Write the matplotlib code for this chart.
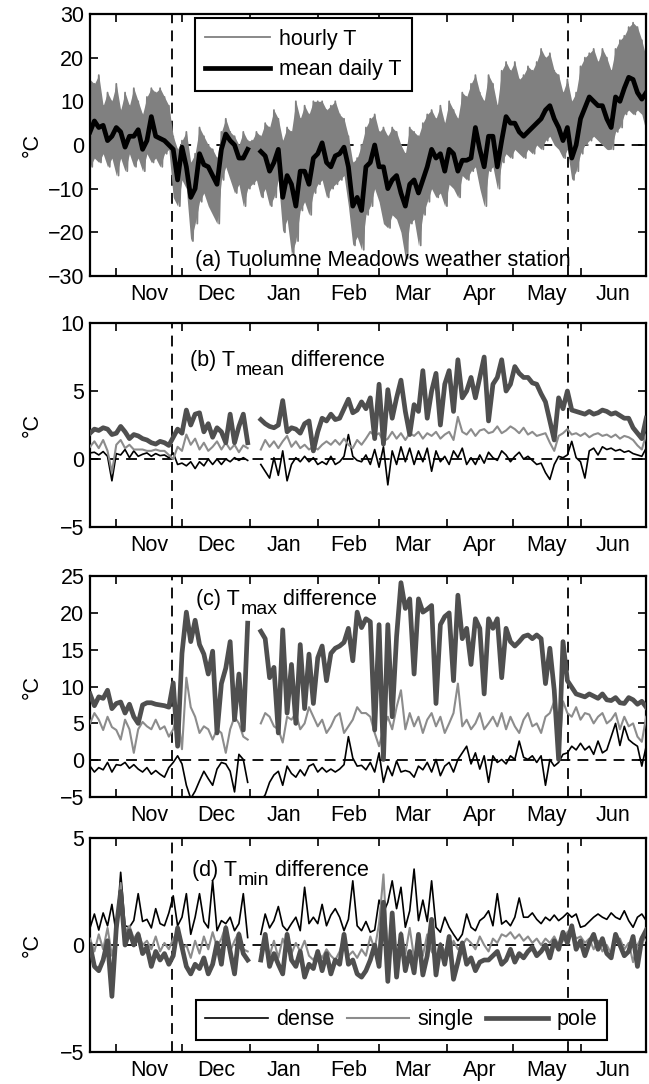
import numpy as np
import matplotlib
matplotlib.use("Agg")
import matplotlib.pyplot as plt

plt.rcParams['font.family'] = ['Liberation Sans', 'DejaVu Sans']
plt.rcParams['font.size'] = 15.5
plt.rcParams['axes.linewidth'] = 1.6

nan = np.nan

# sample days, counted from 20 Oct, every second day up to 30 Jun
days = np.arange(0, 255, 2)
start = np.datetime64('2010-10-20')
month_starts = (np.arange('2010-11', '2011-08', dtype='datetime64[M]').astype('datetime64[D]') - start).astype(int)
month_names = ['Nov', 'Dec', 'Jan', 'Feb', 'Mar', 'Apr', 'May', 'Jun']
snow_on = 37.5
snow_off = 218.5

# (a) station air temperature: daily max / min of the hourly record and the daily mean
hourly_hi = [15, 14, 16, 9, 12, 10, 14, 8, 12, 9, 13, 10, 7, 11, 13, 12,
             13, 11, 9, 2, -1, 1, 3, -4, -2, 4, 2, 0, -1, -3, 3, 6,
             3, 2, 0, 3, 1, 1, 3, 2, 5, 4, 8, 6, 1, 4, 3, 10,
             6, 9, 7, 10, 10, 10, 8, 9, 10, 7, 6, 2, -4, -3, 0, 4,
             6, 7, 3, 4, 2, 4, 3, 0, -2, 4, 3, 2, 5, 7, 8, 6,
             9, 5, 10, 8, 6, 12, 11, 14, 16, 12, 10, 16, 14, 9, 17, 19,
             17, 19, 15, 16, 18, 17, 19, 22, 20, 21, 17, 16, 12, 15, 10, 12,
             18, 20, 21, 22, 19, 22, 20, 17, 22, 24, 25, 27, 28, 27, 24, 20]
hourly_lo = [-5, -3, -4, -2, -5, -3, -7, -3, -6, -2, -5, -3, -6, -2, -4, -3,
             -5, -2, -1, -12, -14, -8, -10, -22, -18, -13, -11, -14, -16, -18, -8, -5,
             -8, -11, -9, -14, -10, -9, -8, -12, -10, -14, -12, -8, -20, -17, -25, -22,
             -15, -13, -16, -11, -9, -8, -12, -10, -9, -8, -7, -14, -23, -21, -24, -16,
             -14, -10, -13, -18, -19, -16, -17, -20, -26, -18, -17, -23, -16, -13, -10, -12,
             -11, -14, -9, -10, -12, -7, -8, -6, -5, -10, -14, -6, -5, -10, -4, -2,
             -3, -1, -2, -3, -1, -2, 0, -1, 1, 2, 0, -1, -3, -1, -8, -6,
             -2, 0, 1, 2, 1, 0, -1, -1, 3, 4, 7, 8, 7, 8, 7, 3]
mean_T = [3, 5.5, 4, 4.5, 1, 2, 4, 3, -0.5, 2, 2, 3.5, -1, 1, 6.5, 2,
          1.5, 1, 0, -1, -8, -0.5, -5, -12, -10, -2, -4.5, -5, -7, -9, -1, 2.5,
          1, 0, -3, -3, -1, nan, nan, -1.5, -2.5, -6, -4, -1, -12, -7, -9, -14,
          -6, -6, -9, -3, -2, 0.5, -4, -5, -2.5, -2, -0.5, -5, -14, -12, -15, -5,
          -4, 0, -5, -5, -10, -8, -7, -11, -14, -9, -8, -11, -8, -5, -1, -3,
          -2, -6, -1, -2, -6, -3.5, -3.5, -3, 4, -1, -5, 2, 2, -5, 1, 6.5,
          5, 5, 3, 2, 3, 4, 5, 6, 8, 9, 6, 4, 1, 4, -3, 0,
          6, 8.5, 11, 10, 9, 9, 6, 4, 11, 10, 13, 15.5, 15, 12, 10.5, 12]

# (b) Tmean difference
dense_b = [0.45, 0.5, 0.3, 0.55, 0.2, -1.6, 0.4, 0.3, 0.7, 0.1, 0.6, 0.2, 0.35, 0.45, 0.2, 0.4,
           0.25, 0.3, 0.1, 0.45, -0.4, -0.3, -0.5, -0.2, -0.7, -0.2, -0.5, 0.0, -0.4, 0.0, -0.4, 0.0,
           -0.2, 0.1, -0.1, 0.1, -0.1, nan, nan, -0.4, -0.9, -1.4, 0.1, -1.2, 0.6, -1.6, -0.4, 0.1,
           -0.2, 0.2, -0.2, 0.1, -0.4, -0.2, -0.4, 0.2, -0.4, -0.2, 0.2, 1.8, 0.2, -0.1, -0.2, 0.3,
           -0.4, 0.7, -0.6, 0.9, -1.9, 0.6, -0.4, 0.9, -0.2, 0.8, -0.4, 0.6, -0.2, 0.8, -0.9, 0.6,
           -0.2, 0.2, -0.4, 0.6, 0.1, 0.8, -0.4, 0.1, -0.4, 0.3, -0.3, 0.5, 0.1, -0.1, 0.6, 0.3,
           -0.2, 0.2, 0.5, 0.0, 0.2, -0.1, -0.4, -0.3, -1.0, -1.5, -0.4, 0.2, 0.1, 0.3, 1.3, 0.1,
           -0.2, -1.4, 0.6, 0.8, 0.3, 0.9, 0.7, 0.8, 0.6, 0.7, 0.5, 0.6, 0.4, 0.3, 0.2, 0.8]
single_b = [0.9, 1.3, 0.8, 1.4, 0.6, -1.0, 1.05, 1.4, 0.8, 1.05, 0.7, 0.7, 0.7, 0.6, 0.6, 0.7,
            0.6, 0.6, 0.3, 0.0, 0.9, 0.6, 1.8, 1.05, 1.5, 0.7, 1.2, 0.6, 0.9, 1.3, 0.7, 1.2,
            0.7, 1.05, 0.5, 1.0, 0.8, nan, nan, 0.7, 1.4, 0.9, 1.3, 0.8, 1.3, 1.7, 0.9, 1.3,
            0.8, 1.05, 0.7, 0.9, 0.7, 1.05, 1.3, 1.05, 1.4, 1.05, 1.5, 1.05, 0.8, 1.4, 1.05, 1.5,
            2.0, 1.7, 1.9, 1.3, 1.5, 2.0, 1.5, 1.9, 1.4, 1.9, 1.7, 2.0, 1.5, 1.9, 1.7, 2.0,
            1.5, 1.8, 2.0, 1.4, 3.1, 2.0, 1.8, 2.2, 1.7, 2.1, 2.2, 1.9, 2.0, 2.4, 1.9, 2.1,
            2.4, 2.2, 1.9, 2.3, 1.8, 2.0, 1.7, 1.8, 1.9, 1.2, 0.6, 1.7, 1.9, 2.2, 1.8, 1.9,
            1.7, 1.9, 1.6, 1.8, 1.9, 1.7, 1.8, 1.6, 1.8, 1.5, 1.7, 1.6, 1.4, 1.0, 0.7, 1.8]
pole_b = [1.9, 2.2, 2.1, 2.3, 2.2, 1.8, 1.9, 2.4, 2.0, 1.5, 1.8, 1.7, 1.5, 1.4, 1.2, 1.1,
          1.3, 1.2, 1.0, 1.6, 2.2, 1.9, 3.6, 2.5, 3.3, 3.4, 2.0, 2.6, 1.6, 2.3, 2.0, 1.2,
          3.3, 1.2, 2.4, 3.3, 1.2, nan, nan, 2.9, 2.6, 2.4, 2.3, 2.5, 4.3, 2.0, 2.3, 2.2,
          1.9, 2.6, 2.8, 0.6, 2.0, 3.0, 2.8, 3.3, 2.9, 3.0, 3.7, 4.4, 3.4, 3.6, 4.2, 3.7,
          4.5, 1.5, 5.5, 1.1, 5.1, 3.0, 4.5, 5.8, 3.5, 1.8, 4.0, 3.5, 6.5, 3.0, 5.0, 6.3,
          2.5, 5.5, 6.5, 3.5, 7.3, 4.5, 5.0, 6.0, 4.5, 6.0, 7.5, 2.8, 5.5, 6.0, 7.3, 5.0,
          5.5, 6.8, 6.3, 6.0, 6.0, 5.6, 5.5, 4.8, 4.2, 2.8, 1.4, 4.5, 3.7, 5.0, 3.6, 3.5,
          3.4, 3.3, 3.5, 3.3, 3.4, 3.6, 3.5, 3.3, 3.4, 3.2, 3.0, 3.0, 2.3, 1.9, 1.5, 3.0]

# (c) Tmax difference
dense_c = [-0.8, -1.6, -1.0, -1.3, -0.3, -1.6, -0.6, -0.7, -0.3, -1.1, -0.6, -1.2, -1.6, -1.0, -1.9, -1.4,
           -1.9, -2.3, -1.0, -0.3, 0.6, -0.5, -3.4, -5.2, -4.2, -2.8, -1.5, -2.5, -3.4, -1.2, -0.3, -0.5,
           -1.5, -4.3, 0.8, 0.1, -3.0, nan, nan, -5.5, -4.7, -3.0, -2.0, -1.5, -3.4, -0.8, -1.8, -2.3,
           -1.3, -2.1, -0.8, -0.5, -1.6, -1.0, -1.6, -1.2, -1.6, -1.2, -0.6, 3.2, 0.3, -0.8, -0.7, -1.3,
           -0.3, -1.6, 1.0, -3.0, -0.8, -2.1, -0.1, -1.6, -1.4, -1.6, -2.3, -0.8, -1.3, -0.3, -1.6, 0.1,
           -2.1, -0.8, -0.3, -1.6, 0.1, 1.0, 1.9, -0.5, 1.0, -1.2, 0.6, -3.0, 0.6, -0.3, 0.1, -0.5,
           0.6, 0.1, 2.6, 0.4, 0.1, 0.6, -0.3, 0.6, -3.4, 0.1, -0.8, -0.3, 0.8, 1.0, 1.9, 1.4,
           2.3, 1.4, 1.9, 0.8, 2.6, 1.0, 1.4, 3.2, 5.0, 2.0, 4.6, 2.8, 2.3, 1.9, -0.8, 1.9]
single_c = [5.0, 6.4, 5.5, 4.1, 5.9, 4.5, 4.1, 2.8, 5.5, 4.2, 1.0, 4.2, 5.2, 4.6, 4.2, 5.5,
            4.2, 4.6, 3.2, 4.2, 6.4, 1.5, 11.2, 7.2, 5.9, 3.7, 4.6, 4.2, 2.8, 4.2, 3.7, 1.0,
            4.2, 5.9, 5.0, 3.2, 2.8, nan, nan, 5.0, 6.4, 5.9, 4.6, 4.2, 2.4, 5.9, 5.5, 6.4,
            4.2, 5.0, 7.2, 5.9, 4.6, 5.5, 3.7, 4.6, 5.9, 6.4, 3.7, 4.6, 5.5, 7.2, 6.4, 6.4,
            5.9, 3.7, 1.9, 4.2, 5.9, 4.2, 7.2, 9.5, 4.2, 6.4, 4.6, 5.9, 3.7, 5.5, 6.4, 4.6,
            5.9, 3.7, 5.0, 6.4, 10.4, 4.6, 5.5, 4.2, 5.0, 6.4, 4.2, 5.0, 5.9, 4.6, 6.4, 4.2,
            5.9, 4.6, 3.7, 5.5, 6.4, 4.6, 5.0, 3.7, 5.9, 6.4, 8.0, 0.1, 8.0, 6.4, 5.9, 7.2,
            5.5, 6.4, 6.2, 5.0, 5.9, 6.4, 5.0, 5.5, 6.4, 4.2, 5.9, 4.6, 5.0, 3.2, 2.5, 5.9]
pole_c = [9.0, 7.4, 8.6, 8.4, 9.5, 7.0, 7.7, 7.9, 6.4, 7.6, 5.9, 5.0, 7.5, 7.8, 7.8, 7.6,
          7.5, 7.4, 7.2, 10.5, 1.9, 14.5, 20.1, 16.1, 19.0, 15.7, 14.4, 11.7, 14.8, 3.7, 10.4, 12.5,
          16.1, 5.5, 11.7, 4.1, 18.6, nan, nan, 17.5, 16.5, 11.2, 12.6, 3.7, 17.7, 6.4, 13.0, 5.0,
          15.7, 7.0, 14.4, 7.7, 13.9, 15.5, 10.8, 14.5, 15.2, 15.5, 16.0, 17.9, 13.5, 20.1, 18.0, 19.2,
          18.8, 4.1, 18.4, 0.1, 18.4, 5.9, 16.8, 24.1, 20.6, 21.9, 11.7, 21.9, 20.1, 20.5, 21.0, 7.7,
          18.4, 19.5, 20.0, 10.8, 22.4, 16.5, 17.9, 13.0, 19.2, 17.9, 9.0, 19.2, 17.9, 19.2, 11.2, 17.9,
          16.1, 15.5, 16.1, 16.8, 17.0, 16.5, 17.0, 16.5, 10.4, 15.2, 9.5, 0.1, 16.1, 10.8, 9.9, 9.0,
          8.8, 8.6, 9.0, 8.7, 8.4, 9.0, 8.2, 8.1, 8.5, 7.8, 7.7, 8.5, 8.2, 7.6, 8.0, 7.2]

# (d) Tmin difference
dense_d = [0.8, 1.45, 0.7, 1.5, 0.9, 1.9, 0.5, 3.4, 0.9, 0.83, 1.15, 2.4, 1.1, 1.2, 0.8, 1.7,
           1.0, 0.9, 1.5, 2.3, 0.9, 1.3, 2.4, 0.5, 1.3, 2.4, 1.1, 0.8, 3.0, 0.67, 1.14, 1.0,
           1.3, 0.67, 1.0, 2.4, 0.35, nan, nan, 0.5, 1.45, 0.8, 1.14, 1.8, 0.9, 0.67, 1.0, 1.3,
           0.67, 2.7, 1.0, 1.3, 1.0, 1.9, 0.9, 1.4, 1.7, 1.3, 0.67, 1.2, 3.0, 0.9, 0.67, 1.1,
           0.6, 0.7, 2.1, 1.5, 2.0, 3.0, 1.7, 2.7, 0.83, 1.6, 3.55, 1.14, 2.1, 1.1, 3.0, 0.83,
           0.6, 1.3, 0.83, 0.5, 0.2, 0.5, 1.45, 0.83, 0.67, 1.14, 1.3, 1.6, 0.9, 2.4, 0.98, 1.14,
           0.9, 1.3, 2.2, 1.3, 1.3, 1.5, 1.2, 1.0, 1.3, 1.14, 1.4, 1.14, 1.3, 1.5, 1.3, 1.45,
           0.83, 0.9, 1.1, 1.3, 1.45, 1.3, 1.2, 1.5, 1.3, 1.2, 1.6, 1.14, 0.83, 1.3, 1.45, 1.14]
single_d = [0.3, -0.3, 0.5, -0.2, 0.8, -0.5, 0.3, 2.9, 0.6, 0.9, 0.3, 0.6, 0.0, 0.2, -0.2, 0.4,
            -0.3, 0.1, -0.2, 0.3, 0.6, -0.2, 0.0, -0.6, 0.2, -0.4, 0.4, -0.2, 0.6, -0.1, 0.3, 0.9,
            -0.3, 0.2, 0.6, -0.2, -0.3, nan, nan, -0.2, 0.4, -0.5, 0.2, -0.6, 0.3, -0.2, -0.4, 0.1,
            -0.3, 0.2, -0.5, -0.7, -0.3, -0.6, -0.2, -0.5, -0.7, -0.3, 0.4, -0.5, -0.3, -0.6, -0.2, -0.5,
            0.4, -0.2, 1.0, 3.3, -0.5, 1.0, -1.0, 0.6, -0.4, 0.8, -0.6, 0.2, -0.5, 0.5, -0.3, -0.6,
            0.1, -0.3, -0.5, 0.2, -0.2, 0.0, 0.3, 0.1, -0.2, 0.4, 0.0, -0.3, 0.3, 0.1, 0.5, 0.4,
            0.6, 0.3, 0.5, 0.2, 0.4, 0.1, 0.3, 0.0, 0.3, 0.1, 0.4, 0.0, 0.2, 0.6, 0.8, 0.3,
            0.4, 0.1, 0.3, -0.2, 0.2, -0.3, 0.0, -0.4, 0.2, 0.3, -0.2, 0.1, -0.8, 0.0, 0.4, 0.2]
pole_d = [0.0, -1.0, -1.2, -0.7, 0.2, -2.4, 0.8, 2.5, 0.0, 0.67, 0.0, 0.5, -0.4, -0.1, -1.0, -0.3,
          -0.7, -0.4, -0.9, -0.5, 0.8, -0.1, -1.0, -1.35, -0.9, -1.1, -0.6, -1.35, -0.9, 0.1, -0.9, 0.8,
          -0.3, -1.35, 0.5, -0.4, -0.7, nan, nan, -0.7, 0.5, -1.0, -0.4, -0.9, -1.35, 0.5, -0.7, -1.0,
          -0.3, -1.5, -0.9, -1.1, -0.3, -1.2, -0.4, -1.35, -0.7, -0.9, 0.5, -0.9, -0.7, -1.35, -1.5, -1.2,
          -0.7, 0.0, -1.0, 2.0, -1.7, 1.5, -1.5, 0.5, -1.2, -0.3, -1.3, 0.5, -1.4, -0.5, 1.2, -1.4,
          0.0, -0.9, 0.4, -1.6, -0.8, 0.1, -0.9, -0.6, -1.2, -0.8, -0.7, -0.7, -0.5, -0.3, -0.9, -0.7,
          -0.2, -0.8, -0.4, -0.6, -0.3, -0.1, -0.5, -0.3, 0.0, -0.6, 0.2, -0.2, 0.6, 0.1, 0.9, -0.2,
          0.2, -0.5, 0.1, 0.5, -0.2, 0.3, -0.4, -0.6, 0.5, 0.0, -0.5, -0.3, 0.4, -1.0, 0.3, 0.7]

c_hourly = '#808080'
c_single = '#8c8c8c'
c_pole = '#4f4f4f'
dash = (0, (6, 4))


def style(ax, ylim, yticks):
    ax.set_xlim(0, 254)
    ax.set_ylim(*ylim)
    ax.set_yticks(yticks)
    ax.set_xticks(month_starts)
    ax.set_xticklabels([])
    ax.set_xticks((month_starts[:-1] + month_starts[1:]) / 2, minor=True)
    ax.set_xticklabels(month_names, minor=True)
    ax.tick_params(which='major', direction='in', length=6, width=1.2,
                   top=True, right=True)
    ax.tick_params(axis='y', pad=4)
    ax.tick_params(axis='x', which='minor', length=0, pad=6)
    ax.axhline(0, color='k', ls=dash, lw=1.3, zorder=1)
    for x in (snow_on, snow_off):
        ax.axvline(x, color='k', ls=dash, lw=1.3, zorder=1)
    ax.set_ylabel('°C')
    ax.yaxis.set_label_coords(-0.085, 0.5)


def panel_title(ax, x, y, letter, sub):
    # "(b) T" + lowered subscript + "difference", the subscript nearly full size
    t1 = ax.text(x, y, '(%s) T' % letter, ha='left', va='bottom', zorder=4)
    t2 = ax.annotate(sub, xy=(1, 0), xycoords=t1, xytext=(0.5, -6),
                     textcoords='offset points', ha='left', va='bottom',
                     fontsize=14, zorder=4)
    ax.annotate(' difference', xy=(1, 0), xycoords=(t2, t1), ha='left',
                va='bottom', zorder=4)


fig = plt.figure(figsize=(6.49, 10.84), dpi=100)
left, width = 0.1387, 0.857
ax_a = fig.add_axes([left, 0.7454, width, 0.2417])
ax_b = fig.add_axes([left, 0.5138, width, 0.1882])
ax_c = fig.add_axes([left, 0.2647, width, 0.2039])
ax_d = fig.add_axes([left, 0.0295, width, 0.1974])

# (a)
x_h = np.column_stack([days, days + 1]).ravel()
y_h = np.column_stack([hourly_hi, hourly_lo]).ravel()
ax_a.fill_between(days, hourly_lo, hourly_hi, color=c_hourly, lw=0, zorder=2)
ax_a.plot(x_h, y_h, color=c_hourly, lw=1.3, label='hourly T', zorder=2)
ax_a.plot(days, mean_T, color='k', lw=3.4, label='mean daily T', zorder=3)
style(ax_a, (-30, 30), [-30, -20, -10, 0, 10, 20, 30])
ax_a.text(48, -26.5, '(a) Tuolumne Meadows weather station', va='center', ha='left')
leg = ax_a.legend(loc='upper left', bbox_to_anchor=(0.188, 0.985), frameon=True,
                  fancybox=False, framealpha=1, edgecolor='k', handlelength=3.0,
                  handletextpad=0.4, borderpad=0.5, labelspacing=0.45, borderaxespad=0)
leg.get_frame().set_linewidth(1.5)

# (b) - (d)
panels = [
    (ax_b, dense_b, single_b, pole_b, (-5, 10), [-5, 0, 5, 10], 'b', 'mean', 45.7, 6.5),
    (ax_c, dense_c, single_c, pole_c, (-5, 25), [-5, 0, 5, 10, 15, 20, 25], 'c', 'max', 48.4, 20.4),
    (ax_d, dense_d, single_d, pole_d, (-5, 5), [-5, 0, 5], 'd', 'min', 46.6, 3.0),
]
for ax, dense, single, pole, ylim, yticks, letter, sub, tx, ty in panels:
    ax.plot(days, dense, color='k', lw=1.2, label='dense', zorder=3)
    ax.plot(days, single, color=c_single, lw=1.5, label='single', zorder=3)
    ax.plot(days, pole, color=c_pole, lw=3.4, label='pole', zorder=3)
    style(ax, ylim, yticks)
    panel_title(ax, tx, ty, letter, sub)

leg = ax_d.legend(loc='lower left', bbox_to_anchor=(0.19, 0.056), ncol=3, frameon=True,
                  fancybox=False, framealpha=1, edgecolor='k', handlelength=2.9,
                  handletextpad=0.4, columnspacing=0.55, borderpad=0.45, borderaxespad=0)
leg.get_frame().set_linewidth(1.5)

fig.savefig('out.png', dpi=100)
